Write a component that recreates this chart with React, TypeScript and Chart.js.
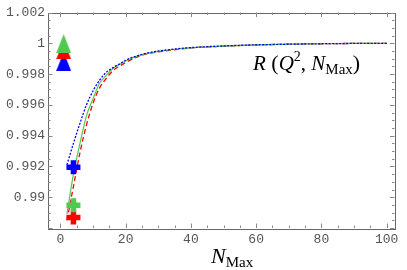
import { useEffect, useRef } from "react";
import { Chart, registerables } from "chart.js";

Chart.register(...registerables);

const nMax = [2, 4, 6, 8, 10, 12, 14, 16, 18, 20, 24, 28, 32, 36, 40, 50, 60, 70, 80, 90, 100];
const blueSeries = [0.9921, 0.9935, 0.9948, 0.996, 0.9969, 0.9976, 0.9981, 0.9984, 0.99865, 0.9989, 0.99922, 0.99942, 0.99955, 0.99965, 0.99972, 0.99983, 0.9999, 0.99994, 0.99997, 0.99999, 1.0];
const greenSeries = [0.9889, 0.9915, 0.9935, 0.9953, 0.9964, 0.9974, 0.9979, 0.99835, 0.9986, 0.99885, 0.9992, 0.9994, 0.99953, 0.99963, 0.9997, 0.99982, 0.9999, 0.99994, 0.99997, 0.99999, 1.0];
const redSeries = [0.9885, 0.9907, 0.9929, 0.9947, 0.9961, 0.9971, 0.9977, 0.9982, 0.9985, 0.99875, 0.99915, 0.99937, 0.9995, 0.9996, 0.9997, 0.99981, 0.99989, 0.99994, 0.99997, 0.99999, 1.0];

const triangleN = [1];
const blueTriangle = [0.99881];
const redTriangle = [0.99958];
const greenTriangle = [0.99997];

const crossN = [4];
const blueCross = [0.99195];
const greenCross = [0.98948];
const redCross = [0.98868];

const xTicks = [0, 20, 40, 60, 80, 100];
const xTickLabels = ["0", "20", "40", "60", "80", "100"];
const yTicks = [0.99, 0.992, 0.994, 0.996, 0.998, 1, 1.002];
const yTickLabels = ["0.99", "0.992", "0.994", "0.996", "0.998", "1", "1.002"];

const BLUE = "#0000ff";
const RED = "#ff0000";
const GREEN = "#4fc94f";

function makeTriangle(color: string) {
  const c = document.createElement("canvas");
  c.width = 15;
  c.height = 19;
  const g = c.getContext("2d")!;
  g.fillStyle = color;
  g.beginPath();
  g.moveTo(7.5, 0);
  g.lineTo(15, 19);
  g.lineTo(0, 19);
  g.closePath();
  g.fill();
  return c;
}

function pts(xs: number[], ys: number[]) {
  return xs.map((x, i) => ({ x, y: ys[i] }));
}

type Part = { text: string; font: string; dy?: number };
function drawRich(ctx: CanvasRenderingContext2D, parts: Part[], x: number, y: number) {
  let cx = x;
  for (const p of parts) {
    ctx.font = p.font;
    ctx.fillText(p.text, cx, y + (p.dy || 0));
    cx += ctx.measureText(p.text).width;
  }
}

const framePlugin = {
  id: "framePlugin",
  afterDraw(chart: any) {
    const ctx: CanvasRenderingContext2D = chart.ctx;
    const { left, right, top, bottom } = chart.chartArea;
    const xs = chart.scales.x;
    const ys = chart.scales.y;
    ctx.save();
    ctx.strokeStyle = "#666";
    ctx.lineWidth = 1;
    ctx.strokeRect(Math.round(left) + 0.5, Math.round(top) + 0.5, Math.round(right - left), Math.round(bottom - top));
    ctx.strokeStyle = "#888";
    ctx.beginPath();
    for (let v = 0; v <= 100.001; v += 5) {
      const major = Math.abs(v % 20) < 1e-6;
      const len = major ? 4.5 : 2.5;
      const px = Math.round(xs.getPixelForValue(v)) + 0.5;
      ctx.moveTo(px, bottom);
      ctx.lineTo(px, bottom - len);
      ctx.moveTo(px, top);
      ctx.lineTo(px, top + len);
    }
    for (let k = 0; k <= 28; k++) {
      const v = 0.988 + k * 0.0005;
      const major = k % 4 === 0;
      const len = major ? 4.5 : 2.5;
      const py = Math.round(ys.getPixelForValue(v)) + 0.5;
      ctx.moveTo(left, py);
      ctx.lineTo(left + len, py);
      ctx.moveTo(right, py);
      ctx.lineTo(right - len, py);
    }
    ctx.stroke();

    ctx.fillStyle = "#000";
    ctx.textBaseline = "alphabetic";
    ctx.textAlign = "left";
    const serif = "'Liberation Serif', 'DejaVu Serif', serif";
    drawRich(
      ctx,
      [
        { text: "R", font: `italic 21px ${serif}` },
        { text: " (", font: `22px ${serif}` },
        { text: "Q", font: `italic 21px ${serif}` },
        { text: "2", font: `14px ${serif}`, dy: -9 },
        { text: ", ", font: `21px ${serif}` },
        { text: "N", font: `italic 21px ${serif}` },
        { text: "Max", font: `15px ${serif}`, dy: 4 },
        { text: ")", font: `22px ${serif}` },
      ],
      253,
      70
    );
    drawRich(
      ctx,
      [
        { text: "N", font: `italic 22px ${serif}` },
        { text: "Max", font: `15px ${serif}`, dy: 4 },
      ],
      211,
      263
    );
    ctx.restore();
  },
};

export default function App() {
  const ref = useRef<HTMLCanvasElement | null>(null);
  useEffect(() => {
    document.body.style.margin = "0";
    const canvas = ref.current;
    if (!canvas) return;
    const mono = "'Liberation Mono', 'DejaVu Sans Mono', monospace";
    const tickFont = { family: mono, size: 13 };
    const chart = new Chart(canvas, {
      type: "line",
      data: {
        datasets: [
          {
            data: pts(triangleN, greenTriangle),
            showLine: false,
            pointStyle: makeTriangle(GREEN) as any,
            pointRadius: 8,
            order: 0,
          },
          {
            data: pts(triangleN, redTriangle),
            showLine: false,
            pointStyle: makeTriangle(RED) as any,
            pointRadius: 8,
            order: 1,
          },
          {
            data: pts(triangleN, blueTriangle),
            showLine: false,
            pointStyle: makeTriangle(BLUE) as any,
            pointRadius: 8,
            order: 2,
          },
          {
            data: pts(crossN, blueCross),
            showLine: false,
            pointStyle: "cross",
            pointRadius: 7,
            pointBorderWidth: 5.5,
            borderColor: BLUE,
            backgroundColor: BLUE,
            order: 3,
          },
          {
            data: pts(crossN, greenCross),
            showLine: false,
            pointStyle: "cross",
            pointRadius: 7,
            pointBorderWidth: 5.5,
            borderColor: GREEN,
            backgroundColor: GREEN,
            order: 4,
          },
          {
            data: pts(crossN, redCross),
            showLine: false,
            pointStyle: "cross",
            pointRadius: 7,
            pointBorderWidth: 5.5,
            borderColor: RED,
            backgroundColor: RED,
            order: 5,
          },
          {
            data: pts(nMax, blueSeries),
            borderColor: BLUE,
            borderWidth: 1.3,
            borderDash: [2, 1.5],
            pointRadius: 0,
            cubicInterpolationMode: "monotone",
            fill: false,
            order: 10,
          },
          {
            data: pts(nMax, greenSeries),
            borderColor: GREEN,
            borderWidth: 1.2,
            pointRadius: 0,
            cubicInterpolationMode: "monotone",
            fill: false,
            order: 11,
          },
          {
            data: pts(nMax, redSeries),
            borderColor: RED,
            borderWidth: 1.3,
            borderDash: [5, 3],
            pointRadius: 0,
            cubicInterpolationMode: "monotone",
            fill: false,
            order: 12,
          },
        ],
      },
      options: {
        animation: false,
        responsive: true,
        maintainAspectRatio: false,
        layout: { padding: { top: 10, right: 6, left: 0, bottom: 0 } },
        plugins: { legend: { display: false }, tooltip: { enabled: false } },
        scales: {
          x: {
            type: "linear",
            min: -3.8,
            max: 102.4,
            grid: { display: false, drawTicks: false },
            border: { display: false },
            afterBuildTicks: (s: any) => {
              s.ticks = xTicks.map((v) => ({ value: v }));
            },
            afterFit: (s: any) => {
              s.height = 42;
            },
            ticks: {
              font: tickFont,
              color: "#555",
              padding: 4,
              maxRotation: 0,
              autoSkip: false,
              callback: (v: any) => {
                const i = xTicks.indexOf(Number(v));
                return i >= 0 ? xTickLabels[i] : "";
              },
            },
          },
          y: {
            type: "linear",
            min: 0.988,
            max: 1.002,
            grid: { display: false, drawTicks: false },
            border: { display: false },
            afterBuildTicks: (s: any) => {
              s.ticks = yTicks.map((v) => ({ value: v }));
            },
            afterFit: (s: any) => {
              s.width = 48;
            },
            ticks: {
              font: tickFont,
              color: "#555",
              padding: 3,
              autoSkip: false,
              callback: (v: any) => {
                const i = yTicks.findIndex((t) => Math.abs(t - Number(v)) < 1e-7);
                return i >= 0 ? yTickLabels[i] : "";
              },
            },
          },
        },
      },
      plugins: [framePlugin],
    } as any);
    return () => chart.destroy();
  }, []);
  return (
    <div style={{ width: 407, height: 270, position: "relative" }}>
      <canvas ref={ref} />
    </div>
  );
}
